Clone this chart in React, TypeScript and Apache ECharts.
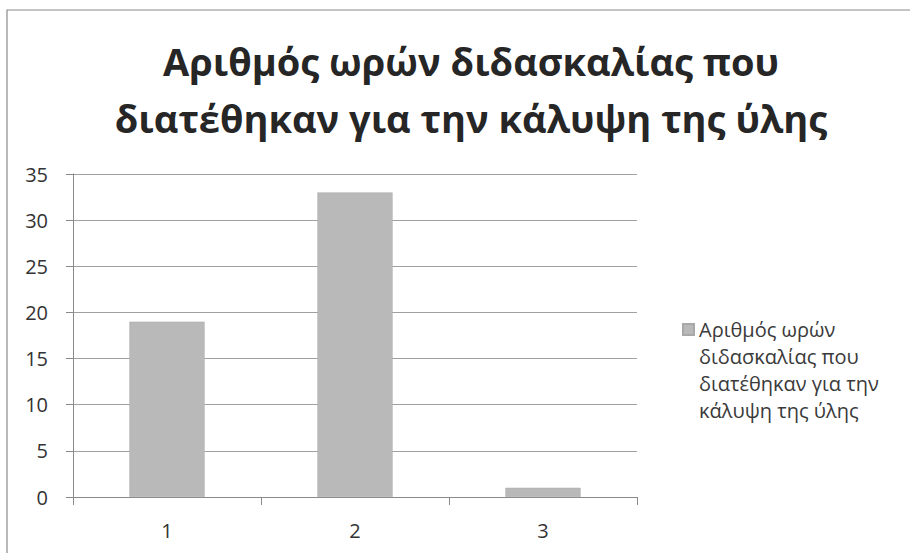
import React, { useEffect, useRef } from "react";
import * as echarts from "echarts";

const categories = ["1", "2", "3"];
const values = [19, 33, 1];
const seriesName = "Αριθμός ωρών\nδιδασκαλίας που\nδιατέθηκαν για την\nκάλυψη της ύλης";
const titleText = "Αριθμός ωρών διδασκαλίας που\nδιατέθηκαν για την κάλυψη της ύλης";
const yMin = 0;
const yMax = 35;
const yStep = 5;

export default function App() {
  const ref = useRef<HTMLDivElement>(null);
  useEffect(() => {
    if (!ref.current) return;
    const chart = echarts.init(ref.current, null, { renderer: "svg" });
    const font = "Open Sans";
    chart.setOption({
      animation: false,
      backgroundColor: "#ffffff",
      textStyle: { fontFamily: font },
      title: {
        text: titleText,
        left: 466,
        textAlign: "center",
        top: 27,
        textStyle: {
          fontFamily: font,
          fontSize: 38,
          fontWeight: "bold",
          color: "#262626",
          lineHeight: 57,
        },
      },
      graphic: [
        {
          type: "rect",
          shape: { x: 7, y: 10, width: 940, height: 600 },
          style: { fill: "none", stroke: "#8a8a8a", lineWidth: 1.2 },
          silent: true,
        },
      ],
      legend: {
        left: 677,
        top: 230,
        orient: "vertical",
        icon: "rect",
        itemWidth: 11,
        itemHeight: 11,
        itemGap: 6,
        formatter: (name: string) => "\n\n\n" + name,
        textStyle: {
          fontFamily: font,
          fontSize: 20,
          color: "#3a3a3a",
          lineHeight: 27,
        },
        data: [seriesName],
      },
      grid: { left: 73, top: 174, right: 273, bottom: 56 },
      xAxis: {
        type: "category",
        data: categories,
        axisLine: { show: true, lineStyle: { color: "#8a8a8a", width: 1 } },
        axisTick: { show: true, alignWithLabel: false, length: 8, lineStyle: { color: "#8a8a8a" } },
        axisLabel: { fontFamily: font, fontSize: 20, color: "#333333", margin: 23 },
      },
      yAxis: {
        type: "value",
        min: yMin,
        max: yMax,
        interval: yStep,
        axisLine: { show: true, lineStyle: { color: "#8a8a8a", width: 1 } },
        axisTick: { show: true, length: 7, lineStyle: { color: "#8a8a8a" } },
        splitLine: { show: true, lineStyle: { color: "#a0a0a0", width: 1 } },
        axisLabel: { fontFamily: font, fontSize: 20, color: "#333333", margin: 25 },
      },
      series: [
        {
          name: seriesName,
          type: "bar",
          data: values,
          barWidth: "40%",
          itemStyle: { color: "#b9b9b9", borderColor: "#a8a8a8", borderWidth: 0.5 },
        },
      ],
    });
    return () => chart.dispose();
  }, []);
  return (
    <div
      ref={ref}
      style={{ position: "fixed", left: 0, top: 0, width: 910, height: 553 }}
    />
  );
}
